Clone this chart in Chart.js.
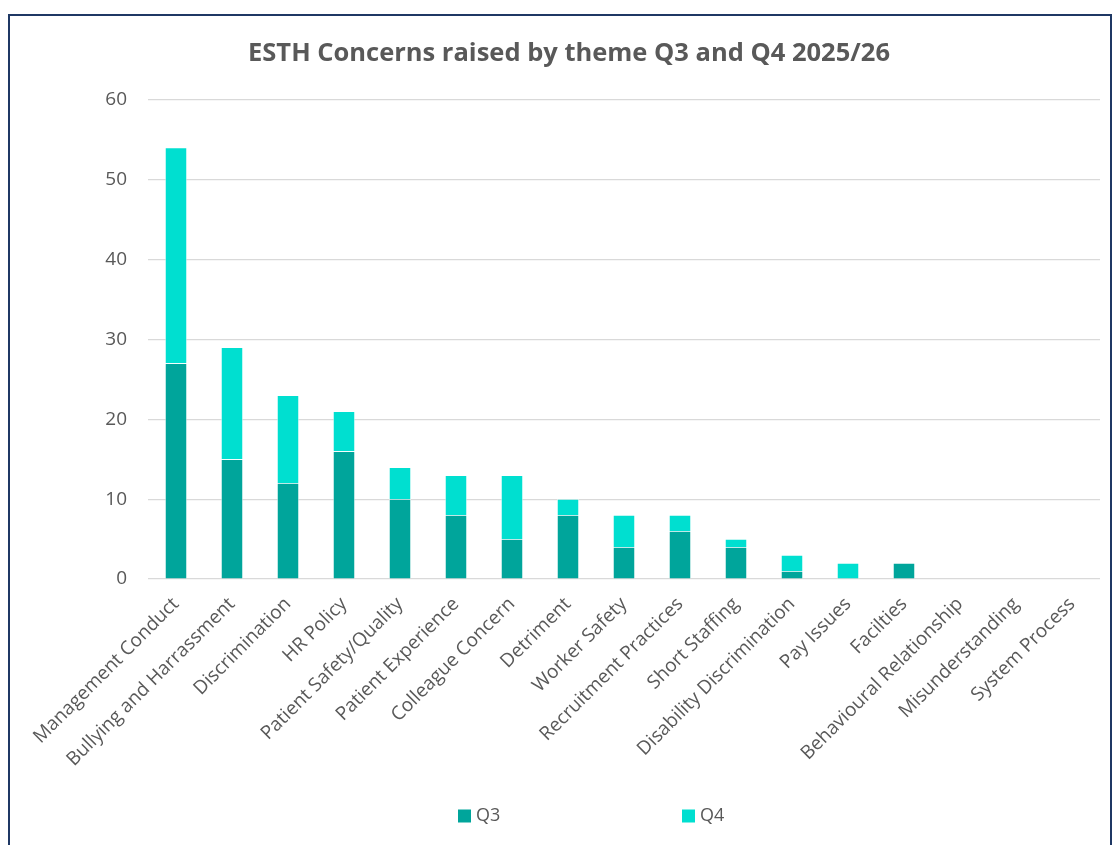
<!DOCTYPE html>
<html>
<head>
<meta charset="utf-8">
<script src="https://cdn.jsdelivr.net/npm/chart.js@4"></script>
<style>
  html, body { margin: 0; padding: 0; background: #ffffff; }
  #frame {
    position: absolute; left: 8px; top: 14px; width: 1100px; height: 840px;
    border: 2px solid #1f3864; border-bottom: none;
  }
  #wrap { position: absolute; left: 0; top: 0; width: 1100px; height: 845px; }
</style>
</head>
<body>
<div id="frame"></div>
<div id="wrap"><canvas id="themeChart"></canvas></div>
<script>
const themes = [
  "Management Conduct", "Bullying and Harrassment", "Discrimination", "HR Policy",
  "Patient Safety/Quality", "Patient Experience", "Colleague Concern", "Detriment",
  "Worker Safety", "Recruitment Practices", "Short Staffing", "Disability Discrimination",
  "Pay Issues", "Facilties", "Behavioural Relationship", "Misunderstanding", "System Process",
];
const q3Counts = [27, 15, 12, 16, 10, 8, 5, 8, 4, 6, 4, 1, 0, 2, 0, 0, 0];
const q4Counts = [27, 14, 11, 5, 4, 5, 8, 2, 4, 2, 1, 2, 2, 0, 0, 0, 0];
const yTicks = [0, 10, 20, 30, 40, 50, 60];

const FONT = "'Open Sans', 'Noto Sans', sans-serif";
const GREY = "#595959";

// legend drawn under the axis labels, items spread wide apart
const spreadLegend = {
  id: "spreadLegend",
  afterDraw(chart, args, opts) {
    const ctx = chart.ctx;
    ctx.save();
    ctx.font = "18px " + FONT;
    ctx.textBaseline = "middle";
    ctx.textAlign = "left";
    chart.data.datasets.forEach((ds, i) => {
      const x = opts.startX + i * opts.gap;
      ctx.fillStyle = ds.backgroundColor;
      ctx.fillRect(x, opts.y - 6.5, 13, 13);
      ctx.fillStyle = GREY;
      ctx.fillText(ds.label, x + 18, opts.y);
    });
    ctx.restore();
  },
};

new Chart(document.getElementById("themeChart"), {
  type: "bar",
  data: {
    labels: themes,
    datasets: [
      {
        label: "Q3",
        data: q3Counts,
        backgroundColor: "#00a59b",
        borderColor: "rgba(255,255,255,0.6)",
        borderWidth: 0.75,
      },
      {
        label: "Q4",
        data: q4Counts,
        backgroundColor: "#00dfd0",
        borderColor: "rgba(255,255,255,0.6)",
        borderWidth: 0.75,
      },
    ],
  },
  options: {
    responsive: true,
    maintainAspectRatio: false,
    animation: false,
    datasets: {
      bar: { barPercentage: 0.393, categoryPercentage: 1 },
    },
    layout: { padding: { top: 0, left: 38, right: 0, bottom: 0 } },
    plugins: {
      legend: { display: false },
      tooltip: { enabled: false },
      title: {
        display: true,
        text: "ESTH Concerns raised by theme Q3 and Q4 2025/26",
        color: GREY,
        font: { family: FONT, size: 25.5, weight: "bold" },
        padding: { top: 38, bottom: 31 },
      },
      spreadLegend: { startX: 458, gap: 224, y: 816 },
    },
    scales: {
      x: {
        stacked: true,
        grid: { display: false },
        border: { display: false },
        ticks: {
          color: GREY,
          font: { family: FONT, size: 19 },
          minRotation: 45,
          maxRotation: 45,
          autoSkip: false,
          padding: 6,
        },
        afterFit(scale) { scale.height = 266; },
      },
      y: {
        stacked: true,
        min: 0,
        max: 60,
        afterBuildTicks(scale) { scale.ticks = yTicks.map((v) => ({ value: v })); },
        grid: { color: "#d9d9d9", lineWidth: 1.2, drawTicks: false },
        border: { display: false },
        ticks: {
          color: GREY,
          font: { family: FONT, size: 19 },
          padding: 21,
        },
        afterFit(scale) { scale.width = 110; },
      },
    },
  },
  plugins: [spreadLegend],
});
</script>
</body>
</html>
